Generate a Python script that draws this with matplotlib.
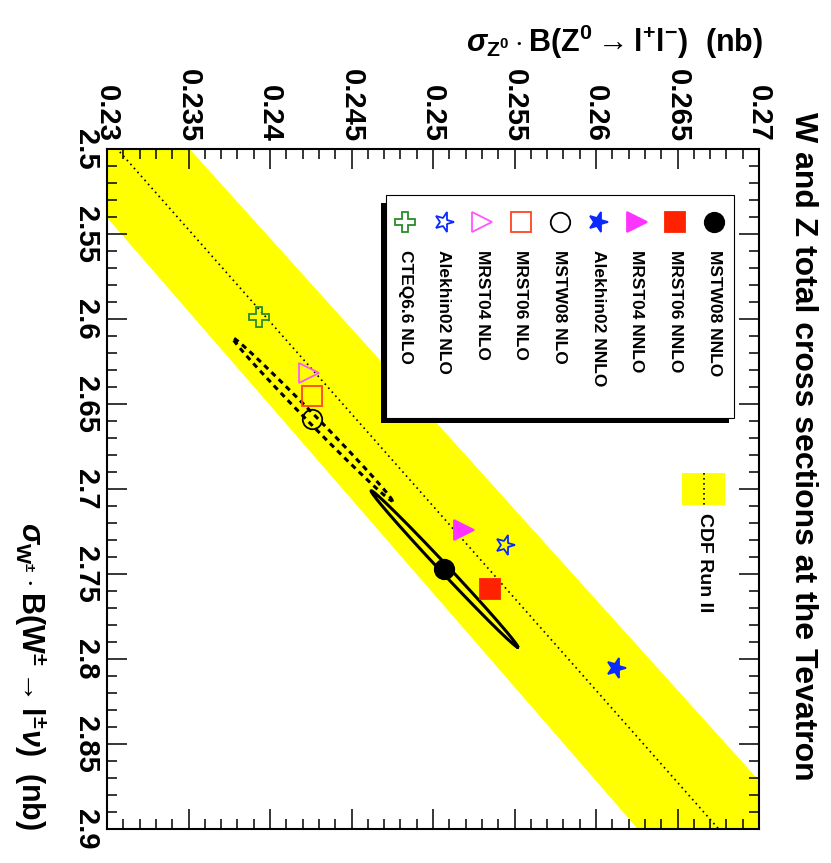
import numpy as np
import matplotlib
matplotlib.use("Agg")
import matplotlib.pyplot as plt
from matplotlib.markers import MarkerStyle
from matplotlib.transforms import Affine2D
from matplotlib.patches import Rectangle

plt.rcParams["font.family"] = ["Liberation Sans", "DejaVu Sans"]
plt.rcParams["font.weight"] = "bold"
plt.rcParams["mathtext.fontset"] = "custom"
plt.rcParams["mathtext.rm"] = "Liberation Sans:bold"
plt.rcParams["mathtext.bf"] = "Liberation Sans:bold"
plt.rcParams["mathtext.it"] = "Liberation Sans:italic"

# ---- predictions: sigma_W*B (nb) and sigma_Z*B (nb) ----
models = ["MSTW08 NNLO", "MRST06 NNLO", "MRST04 NNLO", "Alekhin02 NNLO",
          "MSTW08 NLO", "MRST06 NLO", "MRST04 NLO", "Alekhin02 NLO", "CTEQ6.6 NLO"]
sigma_W = [2.747, 2.759, 2.724, 2.805, 2.659, 2.645, 2.632, 2.733, 2.599]
sigma_Z = [0.2507, 0.2535, 0.2519, 0.2612, 0.2426, 0.2426, 0.2424, 0.2544, 0.2393]
marker_kind = ["o", "s", "tri", "star", "o", "s", "tri", "star", "P"]
filled = [True, True, True, True, False, False, False, False, False]
colors = ["black", "#ff2200", "#ff33ff", "#0a2aff", "black", "#ff4422",
          "#ff55ff", "#0a2aff", "#2a8c2a"]

# ---- CDF Run II measured ratio R = sigma_W*B / sigma_Z*B ----
R_cdf = 10.84
R_err = 0.205

# ---- MSTW08 uncertainty ellipses: centre, half-widths, correlation ----
ell_W0 = [2.747, 2.659]
ell_Z0 = [0.2507, 0.2426]
ell_dW = [0.046, 0.048]
ell_dZ = [0.0045, 0.0049]
ell_rho = [0.997, 0.997]
ell_style = ["-", (0, (1.8, 1.5))]

z_ticks = [0.23, 0.235, 0.24, 0.245, 0.25, 0.255, 0.26, 0.265, 0.27]
w_ticks = [2.5, 2.55, 2.6, 2.65, 2.7, 2.75, 2.8, 2.85, 2.9]

W_PX, H_PX = 831, 863
fig = plt.figure(figsize=(W_PX / 100, H_PX / 100), dpi=100)
ax = fig.add_axes([107 / W_PX, 1 - 829 / H_PX, 652 / W_PX, 680 / H_PX])
ax.set_xlim(0.23, 0.27)
ax.set_ylim(2.9, 2.5)


def make_marker(kind):
    if kind == "tri":
        return MarkerStyle(">")
    if kind == "star":
        return MarkerStyle("*", transform=Affine2D().rotate_deg(-90))
    return MarkerStyle(kind)


# measurement band and central line
w_grid = np.linspace(2.45, 2.95, 200)
ax.fill_betweenx(w_grid, w_grid / (R_cdf + R_err), w_grid / (R_cdf - R_err),
                 color="#ffff00", lw=0, zorder=1)
ax.plot(w_grid / R_cdf, w_grid, color="black", lw=1.2,
        ls=(0, (1, 2.2)), zorder=2)

# uncertainty ellipses
t = np.linspace(0, 2 * np.pi, 500)
for w0, z0, dw, dz, rho, ls in zip(ell_W0, ell_Z0, ell_dW, ell_dZ, ell_rho, ell_style):
    phi = np.arccos(rho)
    ax.plot(z0 + dz * np.cos(t - phi), w0 + dw * np.cos(t),
            color="black", lw=2.2, ls=ls, zorder=3)

# prediction markers
for w, z, k, f, c in zip(sigma_W, sigma_Z, marker_kind, filled, colors):
    ms = 14 if k != "star" else 14.5
    ax.plot([z], [w], ls="none", marker=make_marker(k), ms=ms,
            mfc=c if f else "none", mec=c, mew=1.3, zorder=5)

# axes, ticks and labels
for s in ax.spines.values():
    s.set_linewidth(1.5)
ax.xaxis.tick_top()
ax.set_xticks(z_ticks, [f"{v:g}" for v in z_ticks], rotation=-90,
              fontsize=21, fontweight="bold")
ax.set_yticks(w_ticks, [f"{v:g}" for v in w_ticks], rotation=-90,
              fontsize=21, fontweight="bold", va="center")
ax.set_xticks(np.arange(0.23, 0.2701, 0.001), minor=True)
ax.set_yticks(np.arange(2.5, 2.9001, 0.01), minor=True)
ax.tick_params(which="both", direction="in", top=True, bottom=True,
               left=True, right=True, labeltop=True, labelbottom=False,
               width=1.1)
ax.tick_params(which="major", length=14.4, pad=5)
ax.tick_params(which="minor", length=7.2)

fig.text(763 / W_PX, 1 - 52 / H_PX,
         r"$\sigma_{\mathbf{Z^0}}\cdot\mathbf{B(Z^0\rightarrow l^{+}l^{-})}$  $\mathbf{(nb)}$",
         fontsize=22, ha="right", va="baseline")
fig.text(30 / W_PX, 1 - 830 / H_PX,
         r"$\sigma_{\mathbf{W^{\pm}}}\cdot\mathbf{B(W^{\pm}\rightarrow l^{\pm}}\nu\mathbf{)}$  $\mathbf{(nb)}$",
         fontsize=22, ha="center", va="bottom", rotation=-90)
fig.text(803 / W_PX, 1 - 112 / H_PX, "W and Z total cross sections at the Tevatron",
         fontsize=23, fontweight="bold", ha="center", va="top", rotation=-90)

# legend overlay in pixel coordinates
lg = fig.add_axes([0, 0, 1, 1], zorder=10)
lg.set_xlim(0, W_PX)
lg.set_ylim(H_PX, 0)
lg.axis("off")

lg.add_patch(Rectangle((381, 203), 348, 220, facecolor="black", edgecolor="none"))
lg.add_patch(Rectangle((386, 195), 348, 223, facecolor="white", edgecolor="black", lw=0.8))
leg_x = np.linspace(714, 405, len(models))
for x, name, k, f, c in zip(leg_x, models, marker_kind, filled, colors):
    ms = 14 if k != "star" else 14.5
    lg.plot([x], [222], ls="none", marker=make_marker(k), ms=ms,
            mfc=c if f else "none", mec=c, mew=1.3)
    lg.text(x, 250, name, rotation=-90, ha="center", va="top",
            fontsize=12.5, fontweight="bold")

lg.add_patch(Rectangle((682, 473), 43, 32, facecolor="#ffff00", edgecolor="none"))
lg.plot([703.5, 703.5], [473, 505], color="black", lw=1.2, ls=(0, (1, 2)))
lg.text(704, 513, "CDF Run II", rotation=-90, ha="center", va="top",
        fontsize=14, fontweight="bold")

fig.savefig("out.png", dpi=100)
